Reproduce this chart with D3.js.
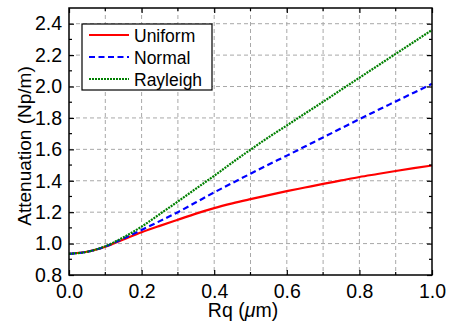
<!DOCTYPE html>
<html>
<head>
<meta charset="utf-8">
<script src="https://cdn.jsdelivr.net/npm/d3@7/dist/d3.min.js"></script>
<style>
  html, body { margin: 0; padding: 0; background: #fff; }
  svg { display: block; font-family: "Liberation Sans", Arial, sans-serif; }
</style>
</head>
<body>
<svg id="chart" width="451" height="323"></svg>
<script>
// Surface roughness Rq (µm)
const rq = [0, 0.05, 0.1, 0.15, 0.2, 0.25, 0.3, 0.35, 0.4, 0.45, 0.5,
            0.55, 0.6, 0.65, 0.7, 0.75, 0.8, 0.85, 0.9, 0.95, 1.0];
// Attenuation (Np/m) for each height distribution
const uniform  = [0.935, 0.948, 0.980, 1.026, 1.072, 1.113, 1.152, 1.191, 1.226, 1.256, 1.283,
                  1.309, 1.334, 1.357, 1.380, 1.402, 1.424, 1.443, 1.462, 1.480, 1.497];
const normal   = [0.935, 0.948, 0.981, 1.032, 1.087, 1.143, 1.200, 1.263, 1.326, 1.386, 1.445,
                  1.503, 1.560, 1.618, 1.676, 1.734, 1.792, 1.849, 1.905, 1.961, 2.017];
const rayleigh = [0.935, 0.948, 0.983, 1.040, 1.108, 1.188, 1.268, 1.350, 1.432, 1.516, 1.598,
                  1.677, 1.752, 1.828, 1.903, 1.980, 2.056, 2.132, 2.208, 2.284, 2.360];

const seriesNames = ["Uniform", "Normal", "Rayleigh"];
const xTicks = [0, 0.2, 0.4, 0.6, 0.8, 1.0];
const yTicks = [0.8, 1.0, 1.2, 1.4, 1.6, 1.8, 2.0, 2.2, 2.4];

const series = [
  { name: seriesNames[0], values: uniform,  color: "#ff0000", dash: null },
  { name: seriesNames[1], values: normal,   color: "#0000ff", dash: "6,3.5" },
  { name: seriesNames[2], values: rayleigh, color: "#008000", dash: "2,1" }
];

const svg = d3.select("#chart");
const L = 69, R = 432, T = 8, B = 275;

const x = d3.scaleLinear().domain([0, 1.0]).range([L, R]);
const y = d3.scaleLinear().domain([0.8, 2.5]).range([B, T]);

// dashed grid: every 0.1 along x, every 0.2 along y
const gridX = d3.range(1, 10).map(i => i / 10);
const gridY = yTicks.filter(v => v > 0.8);
const grid = svg.append("g").attr("stroke", "#a8a8a8").attr("stroke-width", 1)
  .attr("stroke-dasharray", "4,3");
grid.selectAll("line.gx").data(gridX).join("line").attr("class", "gx")
  .attr("x1", d => x(d)).attr("x2", d => x(d)).attr("y1", T).attr("y2", B);
grid.selectAll("line.gy").data(gridY).join("line").attr("class", "gy")
  .attr("y1", d => y(d)).attr("y2", d => y(d)).attr("x1", L).attr("x2", R);

// curves
const line = d3.line().x((d, i) => x(rq[i])).y(d => y(d)).curve(d3.curveMonotoneX);
svg.append("g").selectAll("path").data(series).join("path")
  .attr("d", d => line(d.values))
  .attr("fill", "none")
  .attr("stroke", d => d.color)
  .attr("stroke-width", 2.2)
  .attr("stroke-dasharray", d => d.dash);

// axes with inward ticks on all four sides
const xMinor = d3.range(1, 10, 2).map(i => i / 10);
const yMinor = d3.range(9, 25, 2).map(i => i / 10);

const axB = d3.axisBottom(x).tickValues(xTicks).tickFormat(d3.format(".1f")).tickSizeInner(-5).tickSizeOuter(0).tickPadding(9);
const axL = d3.axisLeft(y).tickValues(yTicks).tickFormat(d3.format(".1f")).tickSizeInner(-5).tickSizeOuter(0).tickPadding(7);
const axT = d3.axisTop(x).tickValues(xTicks).tickFormat("").tickSizeInner(-5).tickSizeOuter(0);
const axR = d3.axisRight(y).tickValues(yTicks).tickFormat("").tickSizeInner(-5).tickSizeOuter(0);

function styleAxis(g) {
  g.select(".domain").remove();
  g.selectAll(".tick line").attr("stroke", "#000").attr("stroke-width", 1.2);
  g.selectAll(".tick text").attr("fill", "#000").style("font-size", "19.5px")
    .style("font-family", "'Liberation Sans', Arial, sans-serif");
}
svg.append("g").attr("transform", `translate(0,${B})`).call(axB).call(styleAxis);
svg.append("g").attr("transform", `translate(${L},0)`).call(axL).call(styleAxis);
svg.append("g").attr("transform", `translate(0,${T})`).call(axT).call(styleAxis);
svg.append("g").attr("transform", `translate(${R},0)`).call(axR).call(styleAxis);

// minor ticks
const minor = svg.append("g").attr("stroke", "#000").attr("stroke-width", 1.2);
xMinor.forEach(v => {
  minor.append("line").attr("x1", x(v)).attr("x2", x(v)).attr("y1", B).attr("y2", B - 3);
  minor.append("line").attr("x1", x(v)).attr("x2", x(v)).attr("y1", T).attr("y2", T + 3);
});
yMinor.forEach(v => {
  minor.append("line").attr("y1", y(v)).attr("y2", y(v)).attr("x1", L).attr("x2", L + 3);
  minor.append("line").attr("y1", y(v)).attr("y2", y(v)).attr("x1", R).attr("x2", R - 3);
});

// frame
svg.append("rect").attr("x", L).attr("y", T).attr("width", R - L).attr("height", B - T)
  .attr("fill", "none").attr("stroke", "#000").attr("stroke-width", 1.5);

// axis titles
const xt = svg.append("text").attr("x", 243).attr("y", 317).attr("text-anchor", "middle")
  .style("font-size", "19.5px").attr("fill", "#000");
xt.append("tspan").text("Rq (");
xt.append("tspan").style("font-style", "italic").text("\u03bc");
xt.append("tspan").text("m)");

svg.append("text").attr("transform", "translate(31,146) rotate(-90)")
  .attr("text-anchor", "middle").style("font-size", "19px").attr("fill", "#000")
  .text("Attenuation (Np/m)");

// legend
const lg = svg.append("g");
lg.append("rect").attr("x", 82).attr("y", 24).attr("width", 130).attr("height", 66)
  .attr("fill", "#fff").attr("stroke", "#000").attr("stroke-width", 1.2);
const rowY = [35, 57, 79];
series.forEach((s, i) => {
  lg.append("line").attr("x1", 89).attr("x2", 129).attr("y1", rowY[i]).attr("y2", rowY[i])
    .attr("stroke", s.color).attr("stroke-width", 2.2).attr("stroke-dasharray", s.dash);
  lg.append("text").attr("x", 134).attr("y", rowY[i] + 6.5).style("font-size", "17.5px")
    .attr("fill", "#000").text(s.name);
});
</script>
</body>
</html>
